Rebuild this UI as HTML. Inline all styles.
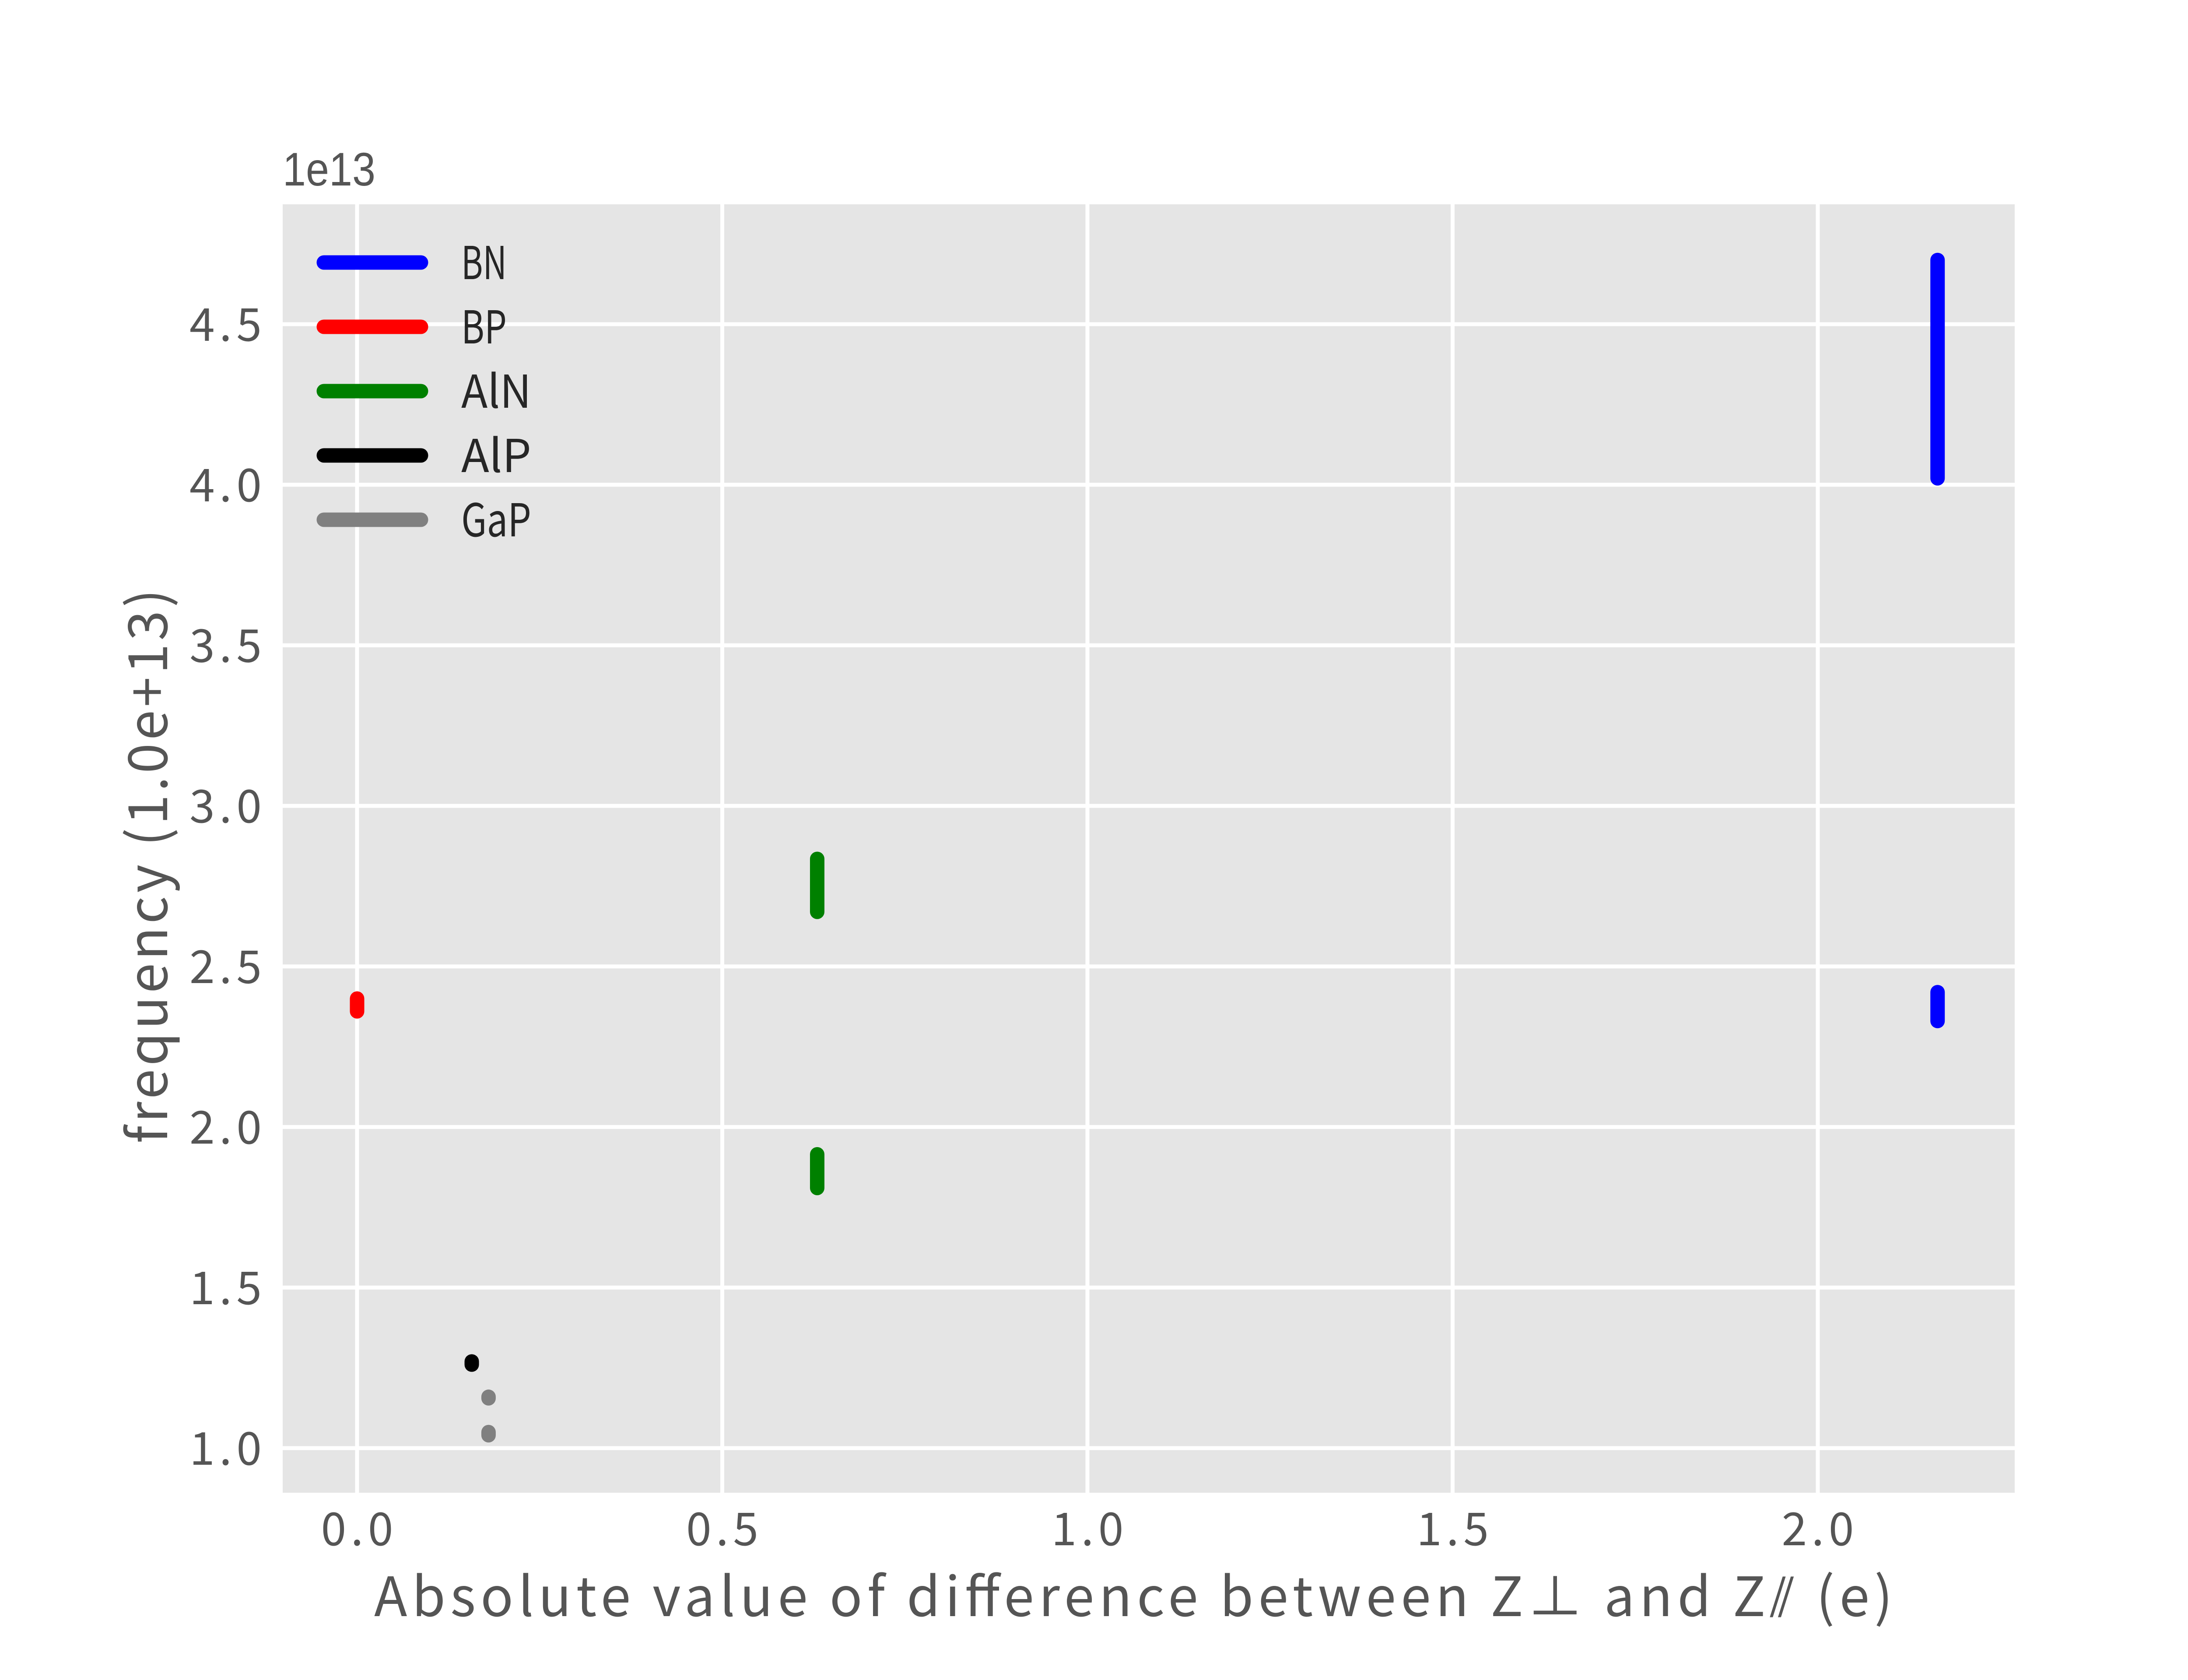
<!DOCTYPE html>
<html><head><meta charset="utf-8"><style>html,body{margin:0;padding:0;background:#fff}svg{display:block}</style></head>
<body>
<svg id="chart" width="5120" height="3840" viewBox="0 0 5120 3840" xmlns="http://www.w3.org/2000/svg">
<rect x="646" y="467" width="3958" height="2945" fill="#e5e5e5"/>
<g id="grid"></g>
<g id="marks"></g>
<g id="ticks"></g>
<text x="646" y="424" font-family="Liberation Sans, sans-serif" font-size="108" fill="#555" textLength="212" lengthAdjust="spacingAndGlyphs">1e13</text>
<text x="2590" y="3694" text-anchor="middle" font-family="'Noto Sans CJK SC', 'Liberation Sans', sans-serif" font-size="124" fill="#555" textLength="3470" lengthAdjust="spacing">Absolute value of difference between Z⊥ and Z⫽ (e)</text>
<text transform="translate(382,1980) rotate(-90)" text-anchor="middle" font-family="'Noto Sans CJK SC', 'Liberation Sans', sans-serif" font-size="124" fill="#555" textLength="1267" lengthAdjust="spacing">frequency (1.0e+13)</text>
<g id="legend"></g>
</svg>
<script>
const seriesNames = ["BN","BP","AlN","AlP","GaP"];
const seriesColors = ["#0000ff","#ff0000","#008000","#000000","#808080"];
const BN_x = [2.164, 2.164];
const BN_lo = [4.02, 2.33];
const BN_hi = [4.70, 2.42];
const BP_x = [0.0];
const BP_lo = [2.36];
const BP_hi = [2.40];
const AlN_x = [0.630, 0.630];
const AlN_lo = [2.67, 1.81];
const AlN_hi = [2.835, 1.915];
const AlP_x = [0.157];
const AlP_lo = [1.26];
const AlP_hi = [1.27];
const GaP_x = [0.180, 0.180];
const GaP_lo = [1.155, 1.04];
const GaP_hi = [1.16, 1.05];
const xTicks = [0.0, 0.5, 1.0, 1.5, 2.0];
const xTickLabels = ["0.0","0.5","1.0","1.5","2.0"];
const yTicks = [1.0, 1.5, 2.0, 2.5, 3.0, 3.5, 4.0, 4.5];
const yTickLabels = ["1.0","1.5","2.0","2.5","3.0","3.5","4.0","4.5"];

const NS = "http://www.w3.org/2000/svg";
const FONT = "'Noto Sans CJK SC', 'Liberation Sans', sans-serif";
function X(v){ return 816 + v*1669; }
function Y(v){ return 741 - (v-4.5)*734; }
function mk(tag, attrs, parent){ const e=document.createElementNS(NS,tag); for(const k in attrs) e.setAttribute(k, attrs[k]); parent.appendChild(e); return e; }

const grid=document.getElementById('grid'), ticks=document.getElementById('ticks'), marks=document.getElementById('marks'), legend=document.getElementById('legend');
xTicks.forEach((t,i)=>{
  const l=mk('line',{x1:X(t),x2:X(t),y1:467,y2:3412,stroke:'#fff','stroke-width':9},grid);
  
  
  const tx=mk('text',{x:X(t),y:3532,'text-anchor':'middle','font-family':FONT,'font-size':104,fill:'#555',textLength:165,lengthAdjust:'spacing'},ticks);
  tx.textContent=xTickLabels[i];
  
  
});
yTicks.forEach((t,i)=>{
  const l=mk('line',{x1:646,x2:4604,y1:Y(t),y2:Y(t),stroke:'#fff','stroke-width':9},grid);
  
  
  const tx=mk('text',{x:598,y:Y(t)+38,'text-anchor':'end','font-family':FONT,'font-size':104,fill:'#555',textLength:165,lengthAdjust:'spacing'},ticks);
  tx.textContent=yTickLabels[i];
  
  
});
const seriesData=[[BN_x,BN_lo,BN_hi],[BP_x,BP_lo,BP_hi],[AlN_x,AlN_lo,AlN_hi],[AlP_x,AlP_lo,AlP_hi],[GaP_x,GaP_lo,GaP_hi]];
seriesData.forEach((s,k)=>{
  s[0].forEach((xv,j)=>{
    const l=mk('line',{x1:X(xv),x2:X(xv),y1:Y(s[1][j]),y2:Y(s[2][j]),stroke:seriesColors[k],'stroke-width':33,'stroke-linecap':'round'},marks);
    
    
  });
  const ly=600+k*147;
  const ll=mk('line',{x1:740,x2:962,y1:ly,y2:ly,stroke:seriesColors[k],'stroke-width':33,'stroke-linecap':'round'},legend);
  
  
  const lt=mk('text',{x:1054,y:ly+38,'font-family':FONT,'font-size':104,fill:'#262626',textLength:seriesNames[k].length===2?104:160,lengthAdjust:'spacingAndGlyphs'},legend);
  lt.textContent=seriesNames[k];
  
  
});
</script>
</body></html>
